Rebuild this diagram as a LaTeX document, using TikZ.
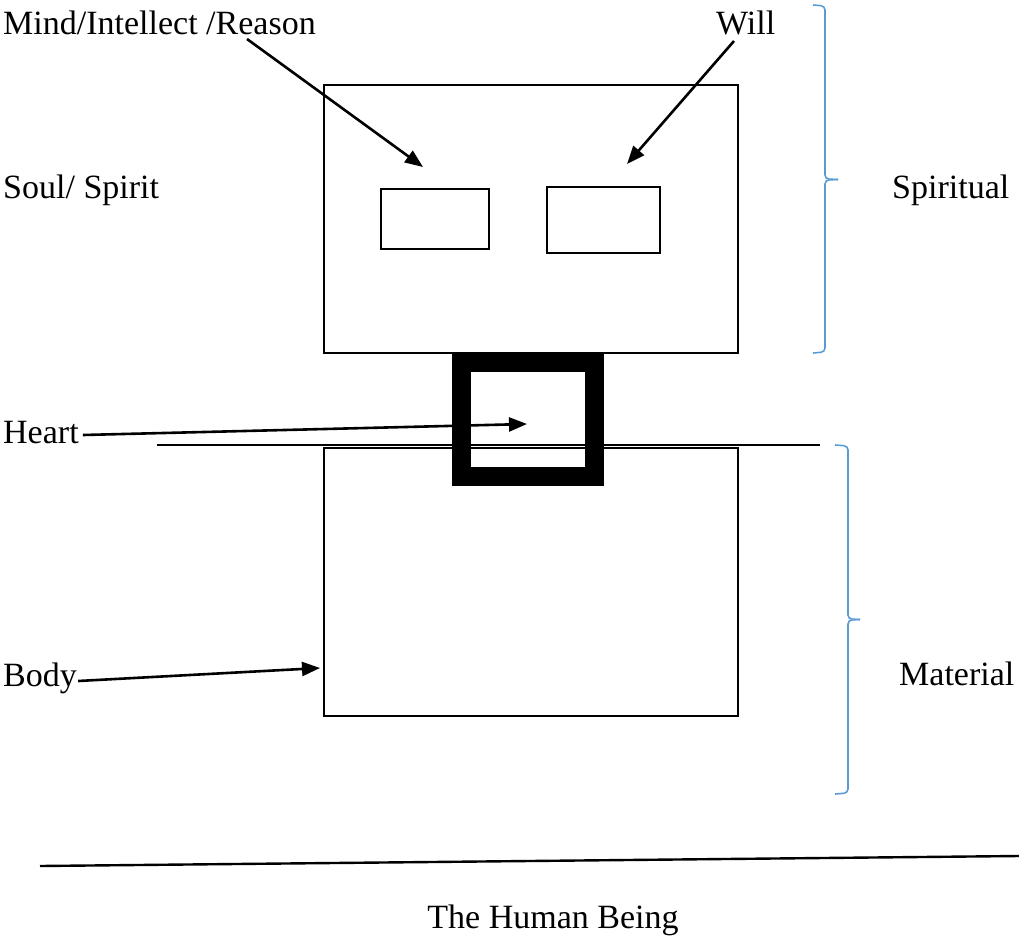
\documentclass[tikz,border=0pt]{standalone}
\usepackage{fontspec}
\setmainfont{Liberation Serif}
\usetikzlibrary{arrows.meta}
\definecolor{bracecol}{RGB}{91,155,213}
\begin{document}
\begin{tikzpicture}[x=1pt,y=-1pt,
  lbl/.style={font=\fontsize{34}{40}\selectfont, inner sep=0pt, anchor=base west},
  frame/.style={draw, line width=2.6pt, inner sep=0pt, minimum width=#1},
  pointer/.style={line width=2.6pt, -{Triangle[length=18pt,width=14pt]}},
  brace/.style={draw=bracecol, line width=1.6pt, rounded corners=4pt}]
\useasboundingbox (0,0) rectangle (1019,936);

% soul and body boxes
\node[frame=414pt, minimum height=268pt] (soul) at (531,219) {};
\node[frame=414pt, minimum height=268pt] (body) at (531,582) {};
\node[frame=108pt, minimum height=60pt] (mindbox) at (435,219) {};
\node[frame=113pt, minimum height=66pt] (willbox) at (603.5,220) {};

% dividing line between spiritual and material
\coordinate (divL) at (157,445);
\coordinate (divR) at (820,445);
\draw[line width=1.6pt] (divL) -- (divR);

% the heart joining both
\node[draw, line width=19pt, inner sep=0pt, minimum width=132.5pt,
      minimum height=114pt] (heartbox) at (528,419.5) {};

% labels
\node[lbl] (mind) at (3,35) {Mind/Intellect /Reason};
\node[lbl] (will) at (716,35) {Will};
\node[lbl] (soullbl) at (3,198) {Soul/ Spirit};
\node[lbl] (spiritual) at (892,198) {Spiritual};
\node[lbl] (heart) at (3,443) {Heart};
\node[lbl] (bodylbl) at (3,686) {Body};
\node[lbl] (material) at (899,685) {Material};
\node[lbl, anchor=base] (title) at (553,928) {The Human Being};

% pointers
\coordinate (mindtail) at (247,39);
\coordinate (mindtip) at (423,167);
\coordinate (willtail) at (734,41);
\coordinate (willtip) at (627,164);
\coordinate (hearttip) at (527,424);
\coordinate (bodytip) at (320,668);
\draw[pointer] (mindtail) -- (mindtip);
\draw[pointer] (willtail) -- (willtip);
\draw[pointer] ([xshift=4pt,yshift=8pt]heart.base east) -- (hearttip);
\draw[pointer] ([xshift=1pt,yshift=5pt]bodylbl.base east) -- (bodytip);

% braces
\draw[brace] (813,5) -- (825,6) -- (825,179) -- (838,179.5);
\draw[brace] (838,179.5) -- (825,180) -- (825,352) -- (813,353);
\draw[brace] (835,445) -- (848,446) -- (848,619) -- (860,619.5);
\draw[brace] (860,619.5) -- (848,620) -- (848,793) -- (835,794);

% base line
\coordinate (baseL) at (40,866);
\coordinate (baseR) at (1019,856);
\draw[line width=2.4pt] (baseL) -- (baseR);
\end{tikzpicture}
\end{document}
